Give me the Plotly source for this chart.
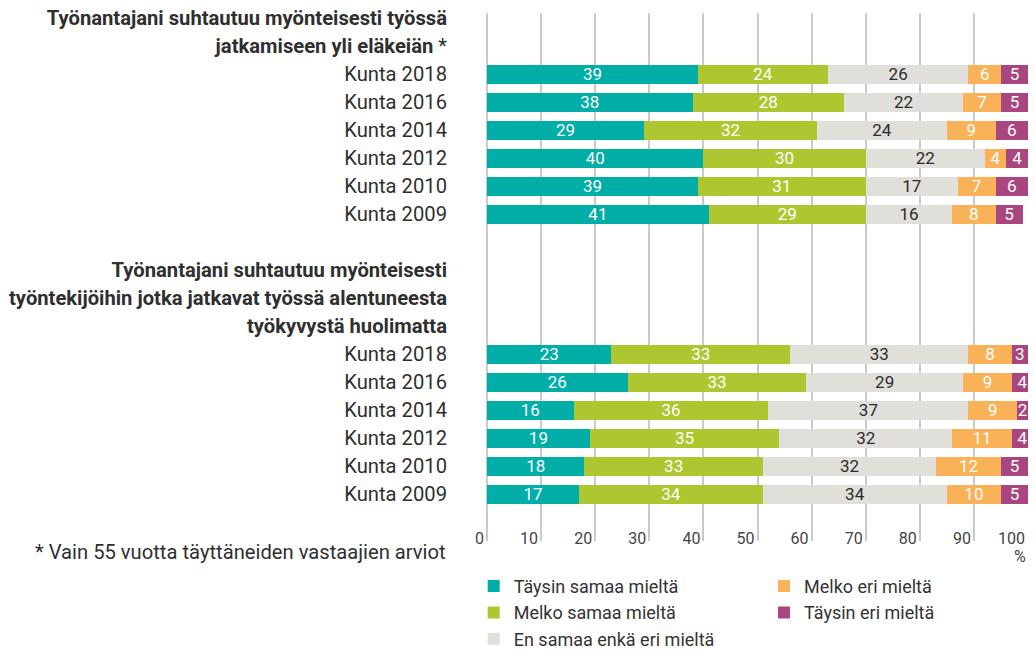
import plotly.graph_objects as go

# Survey rows: two statements, six survey years each
years = ["Kunta 2018", "Kunta 2016", "Kunta 2014", "Kunta 2012", "Kunta 2010", "Kunta 2009"]

heading1 = ["<b>Työnantajani suhtautuu myönteisesti työssä</b>",
            "<b>jatkamiseen yli eläkeiän</b> *"]
heading2 = ["<b>Työnantajani suhtautuu myönteisesti</b>",
            "<b>työntekijöihin jotka jatkavat työssä alentuneesta</b>",
            "<b>työkyvystä huolimatta</b>"]

series_names = ["Täysin samaa mieltä", "Melko samaa mieltä", "En samaa enkä eri mieltä",
                "Melko eri mieltä", "Täysin eri mieltä"]

# Shares (%) per answer, statement 1 then statement 2, years 2018 -> 2009
taysin_samaa = [39, 38, 29, 40, 39, 41, 23, 26, 16, 19, 18, 17]
melko_samaa = [24, 28, 32, 30, 31, 29, 33, 33, 36, 35, 33, 34]
ei_kumpikaan = [26, 22, 24, 22, 17, 16, 33, 29, 37, 32, 32, 34]
melko_eri = [6, 7, 9, 4, 7, 8, 8, 9, 9, 11, 12, 10]
taysin_eri = [5, 5, 6, 4, 6, 5, 3, 4, 2, 4, 5, 5]

x_ticks = [0, 10, 20, 30, 40, 50, 60, 70, 80, 90, 100]

colors = ["#00ADA7", "#AEC62F", "#E1DFD9", "#F9B257", "#A9467F"]
text_colors = ["white", "white", "#2b2b2b", "white", "white"]
values = [taysin_samaa, melko_samaa, ei_kumpikaan, melko_eri, taysin_eri]

# Row slots: heading lines and year rows share one evenly spaced y scale
rows1 = [0, 1, 2, 3, 4, 5]
rows2 = [10, 11, 12, 13, 14, 15]
bar_rows = rows1 + rows2
tick_pos = [-2, -1] + rows1 + [7, 8, 9] + rows2
tick_txt = heading1 + years + heading2 + years

FONT = "Roboto"
TXT = "#2f2f2f"

fig = go.Figure()
for i, (name, vals) in enumerate(zip(series_names, values)):
    fig.add_trace(go.Bar(
        y=bar_rows, x=vals, name=name, orientation="h",
        marker=dict(color=colors[i], line=dict(width=0)),
        width=0.68,
        text=[str(v) for v in vals], textposition="inside",
        insidetextanchor="middle", textangle=0,
        textfont=dict(color=text_colors[i], size=17, family=FONT),
        legend="legend" if i < 3 else "legend2",
        hoverinfo="skip",
    ))

legend_style = dict(
    xref="container", yref="container", orientation="v",
    xanchor="left", yanchor="top", y=1 - 567.8 / 651,
    font=dict(size=18, color="#333", family=FONT),
    traceorder="normal", bgcolor="rgba(0,0,0,0)", borderwidth=0,
)

fig.update_layout(
    barmode="stack",
    width=1034, height=651,
    margin=dict(l=486.5, r=6.3, t=13, b=110, autoexpand=False),
    paper_bgcolor="white", plot_bgcolor="white",
    font=dict(family=FONT, color=TXT, size=20),
    uniformtext=dict(minsize=17, mode="show"),
    showlegend=True,
    xaxis=dict(
        range=[0, 100], tickvals=x_ticks, ticktext=[str(t) for t in x_ticks],
        showgrid=True, gridcolor="#CACACA", gridwidth=1.5,
        zeroline=True, zerolinecolor="#CACACA", zerolinewidth=1.5,
        showline=False, ticks="",
        ticklabelposition="inside left", ticklabeloverflow="allow",
        ticklabelstandoff=-12, ticklabelshift=-3,
        tickfont=dict(size=16, color="#444"),
        automargin=False, fixedrange=True,
    ),
    yaxis=dict(
        range=[16.67, -2.19], tickvals=tick_pos, ticktext=tick_txt,
        showgrid=False, zeroline=False, showline=False, ticks="",
        ticklabelstandoff=39,
        tickfont=dict(size=20.2, color=TXT),
        automargin=False, fixedrange=True,
    ),
    legend=dict(legend_style, x=473.7 / 1034),
    legend2=dict(legend_style, x=764 / 1034),
    annotations=[
        dict(text="%", x=100, xref="x", y=-(556 - 541) / 528, yref="paper",
             xanchor="right", yanchor="middle", showarrow=False,
             font=dict(size=16, color="#444")),
        dict(text="* Vain 55 vuotta täyttäneiden vastaajien arviot",
             x=-39.5 / 541.2, xref="paper", y=-(552 - 541) / 528, yref="paper",
             xanchor="right", yanchor="middle", showarrow=False,
             font=dict(size=20.2, color=TXT)),
    ],
)

fig.write_html("out.html")
